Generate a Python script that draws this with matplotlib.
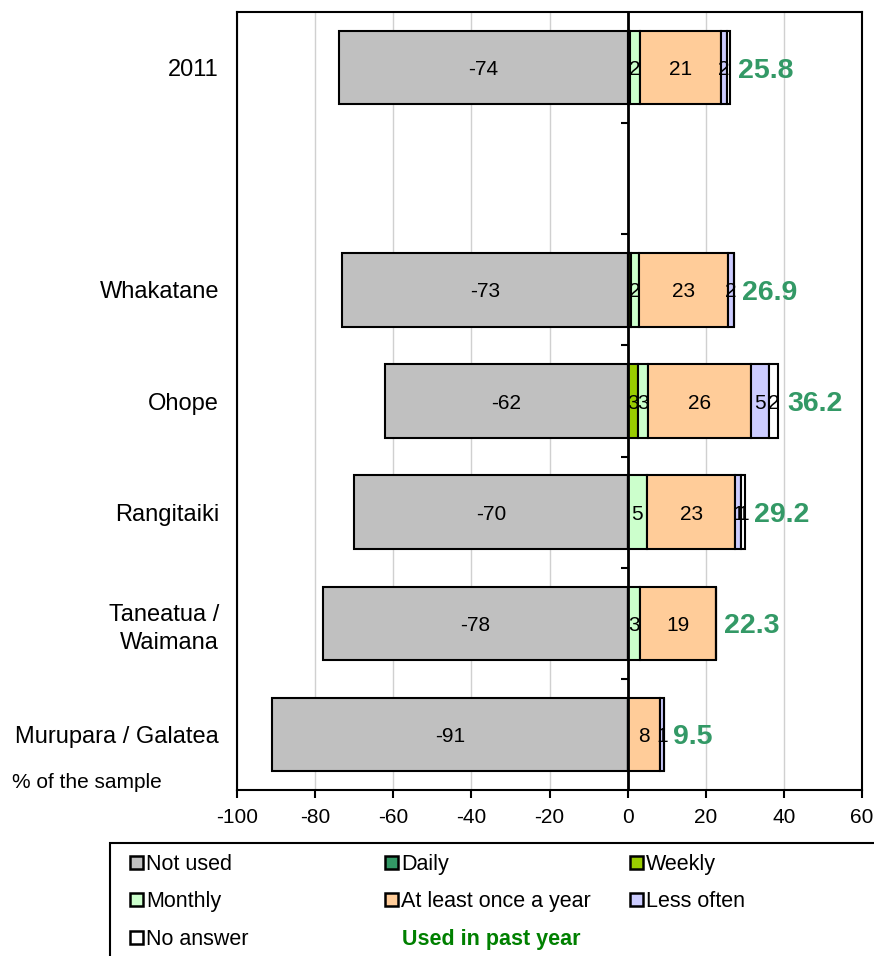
import matplotlib.pyplot as plt
from matplotlib.patches import Rectangle
import numpy as np

plt.rcParams['font.family'] = ['Liberation Sans', 'DejaVu Sans']
plt.rcParams['axes.unicode_minus'] = False

# data (% of the sample)
areas = ["2011", "Whakatane", "Ohope", "Rangitaiki", "Taneatua /\nWaimana", "Murupara / Galatea"]
slots = [0, 2, 3, 4, 5, 6]          # slot 1 is left empty
not_used = [-74, -73, -62, -70, -78, -91]
daily = [0.7, 0.0, 0.0, 0.0, 0.0, 0.0]
weekly = [0.0, 0.8, 2.6, 0.0, 0.0, 0.0]
monthly = [2.4, 2.0, 2.6, 4.9, 3.1, 0.0]
yearly = [20.8, 22.8, 26.3, 22.7, 19.4, 8.2]
less_often = [1.6, 1.6, 4.7, 1.3, 0.0, 1.2]
no_answer = [0.6, 0.0, 2.4, 1.2, 0.0, 0.0]
used_past_year = [25.8, 26.9, 36.2, 29.2, 22.3, 9.5]

series_names = ["Daily", "Weekly", "Monthly", "At least once a year", "Less often", "No answer"]
series_vals = [daily, weekly, monthly, yearly, less_often, no_answer]
colors = {"Not used": "#C0C0C0", "Daily": "#339966", "Weekly": "#99CC00",
          "Monthly": "#CCFFCC", "At least once a year": "#FFCC99",
          "Less often": "#CCCCFF", "No answer": "#FFFFFF"}

fig = plt.figure(figsize=(8.74, 9.56), dpi=100)
ax = fig.add_axes([237/874, 1-790/956, 625/874, 778/956])

y = np.array(slots)
h = 0.66
ax.barh(y, not_used, height=h, color=colors["Not used"], edgecolor="black", lw=1.5, zorder=3)
for i, v in enumerate(not_used):
    ax.text(v/2, y[i], str(v), ha="center", va="center_baseline", fontsize=15, zorder=5)

left = np.zeros(len(areas))
for name, vals in zip(series_names, series_vals):
    vals = np.array(vals)
    ax.barh(y, vals, left=left, height=h, color=colors[name], edgecolor="black", lw=1.5, zorder=3)
    for i, v in enumerate(vals):
        if v >= 1:
            ax.text(left[i] + v/2, y[i], str(int(round(v))), ha="center", va="center_baseline",
                    fontsize=15, zorder=5)
    left = left + vals

for i, t in enumerate(used_past_year):
    ax.text(left[i] + 2.2, y[i], f"{t:.1f}", ha="left", va="center_baseline", fontsize=20.5,
            fontweight="bold", color="#339966", zorder=5)

ax.set_xlim(-100, 60)
ax.set_ylim(6.5, -0.5)
ax.set_xticks(np.arange(-100, 61, 20))
ax.tick_params(axis="x", direction="out", length=6, width=1.5, labelsize=15, pad=7)
ax.grid(axis="x", color="#D0D0D0", lw=1, zorder=0)
ax.set_yticks(slots)
ax.set_yticklabels(areas, fontsize=17, linespacing=1.35)
ax.tick_params(axis="y", length=0, pad=13)
for s in ax.spines.values():
    s.set_linewidth(1.5)

# zero line with category boundary ticks
ax.axvline(0, color="black", lw=2, zorder=4)
bounds = np.arange(0.5, 6, 1.0)
ax.hlines(bounds, -1.8, 0, color="black", lw=1.5, zorder=4)

fig.text(12/874, 1-781/956, "% of the sample", fontsize=15, va="center_baseline", ha="left")

# legend box drawn manually to match layout
fig.patches.append(Rectangle((110/874, -0.05), 0.9, 1-843/956+0.05, transform=fig.transFigure,
                             fill=False, edgecolor="black", lw=1.5))
legend_items = [("Not used", 130, 862), ("Daily", 385, 862), ("Weekly", 630, 862),
                ("Monthly", 130, 899), ("At least once a year", 385, 899), ("Less often", 630, 899),
                ("No answer", 130, 937)]
sq = 13
for name, px, py in legend_items:
    fig.patches.append(Rectangle((px/874, 1-(py+sq/2)/956), sq/874, sq/956,
                                 transform=fig.transFigure, facecolor=colors[name],
                                 edgecolor="black", lw=1.8))
    fig.text((px+sq+3)/874, 1-py/956, name, fontsize=15.5, va="center_baseline", ha="left")
fig.text(402/874, 1-937/956, "Used in past year", fontsize=15.5, fontweight="bold",
         color="#008000", va="center_baseline", ha="left")

fig.savefig("out.png", dpi=100)
